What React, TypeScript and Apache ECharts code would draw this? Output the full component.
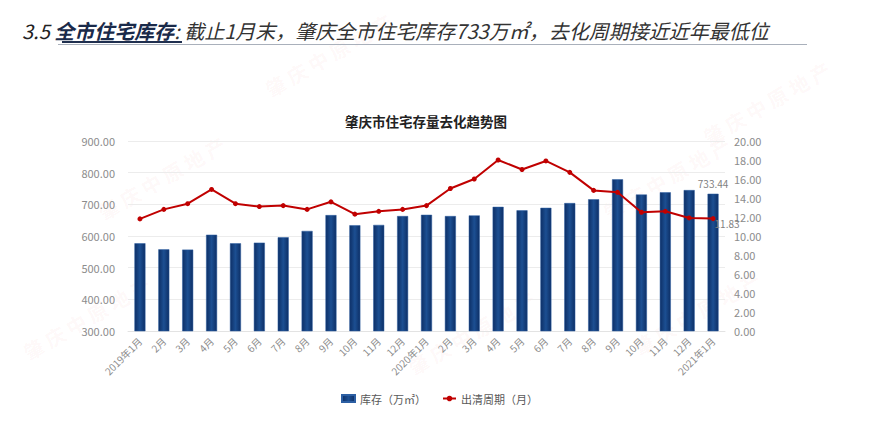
import React, { useEffect, useRef } from "react";
import * as echarts from "echarts";

const categories = [
  "2019年1月", "2月", "3月", "4月", "5月", "6月", "7月", "8月", "9月", "10月", "11月", "12月",
  "2020年1月", "2月", "3月", "4月", "5月", "6月", "7月", "8月", "9月", "10月", "11月", "12月",
  "2021年1月",
];
const inventory = [577, 558, 557, 604, 577, 579, 596, 616, 666, 634, 635, 663, 667, 663, 665, 692, 681, 689, 704, 716, 779, 731, 738, 745, 733.44];
const cycle = [11.8, 12.8, 13.4, 14.9, 13.4, 13.1, 13.2, 12.8, 13.6, 12.3, 12.6, 12.8, 13.2, 15.0, 16.0, 18.0, 17.0, 17.9, 16.7, 14.8, 14.6, 12.5, 12.6, 11.9, 11.83];
const seriesNames = ["库存（万㎡）", "出清周期（月）"];
const headerNum = "3.5 ";
const headerBold = "全市住宅库存";
const headerRest = ": 截止1月末，肇庆全市住宅库存733万㎡，去化周期接近近年最低位";
const chartTitle = "肇庆市住宅存量去化趋势图";
const watermark = "肇 庆 中 原 地 产";

const FONT = '"Noto Sans CJK SC", "Noto Sans", sans-serif';

export default function App() {
  const ref = useRef<HTMLDivElement>(null);
  useEffect(() => {
    if (!ref.current) return;
    const chart = echarts.init(ref.current, null, { renderer: "svg" });
    const last = inventory.length - 1;
    const barData = inventory.map((v, i) =>
      i === last
        ? { value: v, label: { show: true, position: "top", formatter: (p: any) => p.value.toFixed(2), color: "#7f7f7f", fontSize: 10, offset: [0, 0] } }
        : v
    );
    const lineData = cycle.map((v, i) =>
      i === last
        ? { value: v, label: { show: true, position: "right", formatter: (p: any) => p.value.toFixed(2), color: "#7f7f7f", fontSize: 10, offset: [-6, 5] } }
        : v
    );
    const wmPos: [number, number][] = [
      [262, 82], [95, 205], [405, 360], [600, 205], [630, 340], [20, 345], [700, 130],
    ];
    const watermarks = wmPos.map(([x, y]) => ({
      type: "text",
      x,
      y,
      rotation: Math.PI / 6,
      z: -10,
      silent: true,
      style: { text: watermark, font: `bold 20px ${FONT}`, fill: "rgba(230,80,80,0.05)" },
    }));
    chart.setOption({
      animation: false,
      backgroundColor: "#ffffff",
      textStyle: { fontFamily: FONT },
      title: {
        text: chartTitle,
        left: 340,
        top: 109,
        textStyle: { fontSize: 13.5, fontWeight: "bold", color: "#222222", fontFamily: FONT },
      },
      graphic: [
        ...watermarks,
        {
          type: "text",
          x: 22,
          y: 30,
          style: {
            text: `{n|${headerNum}}{b|${headerBold}}{r|${headerRest}}`,
            verticalAlign: "middle",
            rich: {
              n: { font: `italic 20px ${FONT}`, fill: "#222222" },
              b: { font: `italic bold 20px ${FONT}`, fill: "#1a2a4a" },
              r: { font: `italic 20px ${FONT}`, fill: "#333333" },
            },
          },
        },
        { type: "rect", shape: { x: 62, y: 41, width: 120, height: 2 }, style: { fill: "#1f2f4f" } },
        { type: "line", shape: { x1: 58, y1: 44.5, x2: 807, y2: 44.5 }, style: { stroke: "#a9b0bb", lineWidth: 1 } },
      ],
      legend: {
        left: 336,
        top: 388,
        itemWidth: 13,
        itemHeight: 7,
        itemGap: 16,
        textStyle: { fontSize: 11, color: "#595959", fontFamily: FONT },
        data: [
          { name: seriesNames[0], icon: "rect" },
          { name: seriesNames[1] },
        ],
      },
      grid: { left: 128, right: 145, top: 141, bottom: 98 },
      xAxis: {
        type: "category",
        data: categories,
        axisTick: { show: false },
        axisLine: { show: true, lineStyle: { color: "#e3e3e3" } },
        axisLabel: { interval: 0, rotate: 45, fontSize: 10, color: "#8c8c8c", margin: 8 },
      },
      yAxis: [
        {
          type: "value",
          min: 300,
          max: 900,
          interval: 100,
          axisLine: { show: false },
          axisTick: { show: false },
          axisLabel: { formatter: (v: number) => v.toFixed(2), fontSize: 11, color: "#8c8c8c", margin: 13 },
          splitLine: { lineStyle: { color: "#ececec" } },
        },
        {
          type: "value",
          min: 0,
          max: 20,
          interval: 2,
          axisLine: { show: false },
          axisTick: { show: false },
          axisLabel: { formatter: (v: number) => v.toFixed(2), fontSize: 11, color: "#8c8c8c", margin: 9 },
          splitLine: { show: false },
        },
      ],
      series: [
        {
          name: seriesNames[0],
          type: "bar",
          data: barData,
          barWidth: 11,
          itemStyle: {
            color: new echarts.graphic.LinearGradient(0, 0, 1, 0, [
              { offset: 0, color: "#0d2f66" },
              { offset: 0.5, color: "#1c4f92" },
              { offset: 1, color: "#0d2f66" },
            ]),
            borderColor: "#2c5fa3",
            borderWidth: 0.5,
          },
        },
        {
          name: seriesNames[1],
          type: "line",
          yAxisIndex: 1,
          data: lineData,
          symbol: "circle",
          symbolSize: 5,
          lineStyle: { color: "#c00000", width: 2 },
          itemStyle: { color: "#c00000" },
        },
      ],
    });
    return () => chart.dispose();
  }, []);
  return <div ref={ref} style={{ position: "fixed", left: 0, top: 0, width: 870, height: 429 }} />;
}
